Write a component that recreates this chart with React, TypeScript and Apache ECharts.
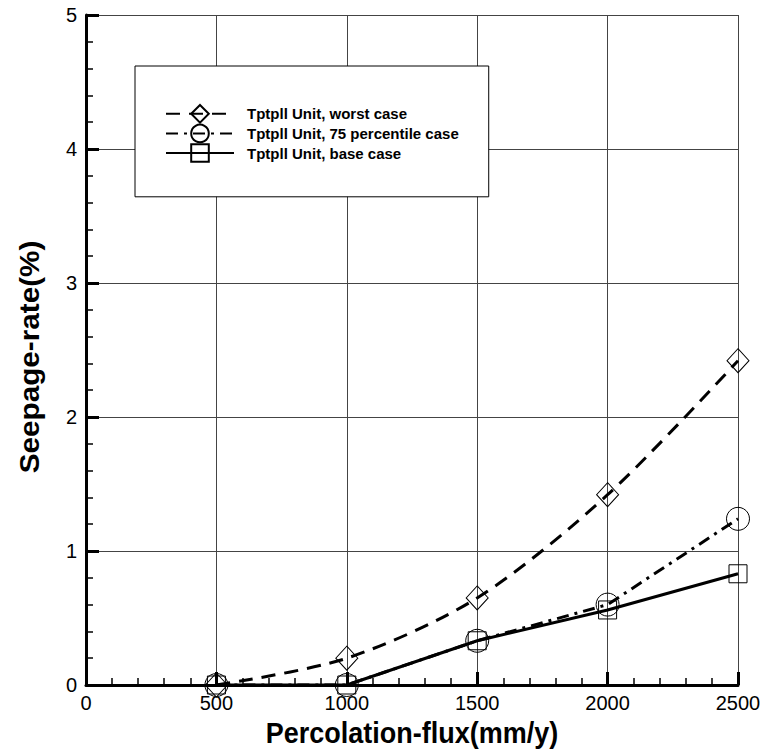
import React, { useEffect, useRef } from "react";
import * as echarts from "echarts";

const fluxValues = [500, 1000, 1500, 2000, 2500];
const worstCase = [0, 0.2, 0.65, 1.42, 2.42];
const percentile75 = [0, 0, 0.33, 0.6, 1.24];
const baseCase = [0, 0, 0.33, 0.56, 0.83];
const seriesNames = [
  "Tptpll Unit, worst case",
  "Tptpll Unit, 75 percentile case",
  "Tptpll Unit, base case",
];
const xTitle = "Percolation-flux(mm/y)";
const yTitle = "Seepage-rate(%)";

const FONT = 'Arial, "Liberation Sans", Helvetica, sans-serif';

const pairs = (ys: number[]) => fluxValues.map((x, i) => [x, ys[i]]);

export default function App() {
  const ref = useRef<HTMLDivElement>(null);
  useEffect(() => {
    if (!ref.current) return;
    const chart = echarts.init(ref.current, null, { renderer: "svg" });
    const markerStyle = {
      color: "rgba(255,255,255,0)",
      borderColor: "#000",
      borderWidth: 1,
    };
    const axisCommon = {
      type: "value",
      axisLine: { show: true, onZero: false, lineStyle: { color: "#000", width: 3 } },
      axisTick: { show: true, inside: true, length: 13, lineStyle: { color: "#000", width: 3 } },
      minorTick: { show: true, splitNumber: 5, length: 7, lineStyle: { color: "#000", width: 1.5 } },
      splitLine: { show: true, lineStyle: { color: "#444", width: 1 } },
    };
    chart.setOption({
      animation: false,
      backgroundColor: "#fff",
      textStyle: { fontFamily: FONT, color: "#000" },
      grid: { left: 86, right: 31, top: 15, bottom: 68, containLabel: false },
      legend: {
        orient: "vertical",
        left: 135,
        top: 66,
        itemWidth: 68,
        itemHeight: 22,
        itemGap: 0,
        padding: [38, 30, 34, 30],
        backgroundColor: "#fff",
        borderColor: "#000",
        borderWidth: 1,
        textStyle: { fontFamily: FONT, fontWeight: "bold", fontSize: 15, color: "#000", padding: [0, 0, 0, 8] },
        data: seriesNames,
      },
      graphic: [
        {
          type: "text",
          x: 412,
          y: 733,
          scaleY: 1.1,
          style: {
            text: xTitle,
            font: `bold 27px ${FONT}`,
            fill: "#000",
            align: "center",
            verticalAlign: "middle",
          },
        },
        {
          type: "text",
          x: 29,
          y: 357,
          rotation: Math.PI / 2,
          scaleX: 1.1,
          style: {
            text: yTitle,
            font: `bold 27px ${FONT}`,
            fill: "#000",
            align: "center",
            verticalAlign: "middle",
          },
        },
      ],
      xAxis: {
        ...axisCommon,
        min: 0,
        max: 2500,
        interval: 500,
        axisLabel: {
          fontFamily: FONT,
          fontSize: 20,
          color: "#000",
          margin: 8,
          formatter: (v: number) => String(v),
        },
      },
      yAxis: {
        ...axisCommon,
        min: 0,
        max: 5,
        interval: 1,
        axisLabel: {
          fontFamily: FONT,
          fontSize: 20,
          color: "#000",
          margin: 9,
          formatter: (v: number) => String(v),
        },
      },
      series: [
        {
          name: seriesNames[0],
          type: "line",
          data: pairs(worstCase),
          smooth: 0.3,
          clip: false,
          symbol: "diamond",
          symbolSize: [22, 24],
          itemStyle: markerStyle,
          lineStyle: { color: "#000", width: 3, type: [14, 9] },
          z: 3,
        },
        {
          name: seriesNames[1],
          type: "line",
          data: pairs(percentile75),
          smooth: false,
          clip: false,
          symbol: "circle",
          symbolSize: 23,
          itemStyle: markerStyle,
          lineStyle: { color: "#000", width: 3, type: [12, 6, 3, 6] },
          z: 3,
        },
        {
          name: seriesNames[2],
          type: "line",
          data: pairs(baseCase),
          smooth: false,
          clip: false,
          symbol: "rect",
          symbolSize: 18,
          itemStyle: markerStyle,
          lineStyle: { color: "#000", width: 3, type: "solid" },
          z: 3,
        },
      ],
    });
    return () => chart.dispose();
  }, []);
  return (
    <div
      ref={ref}
      style={{ position: "absolute", left: 0, top: 0, width: 769, height: 753 }}
    />
  );
}
